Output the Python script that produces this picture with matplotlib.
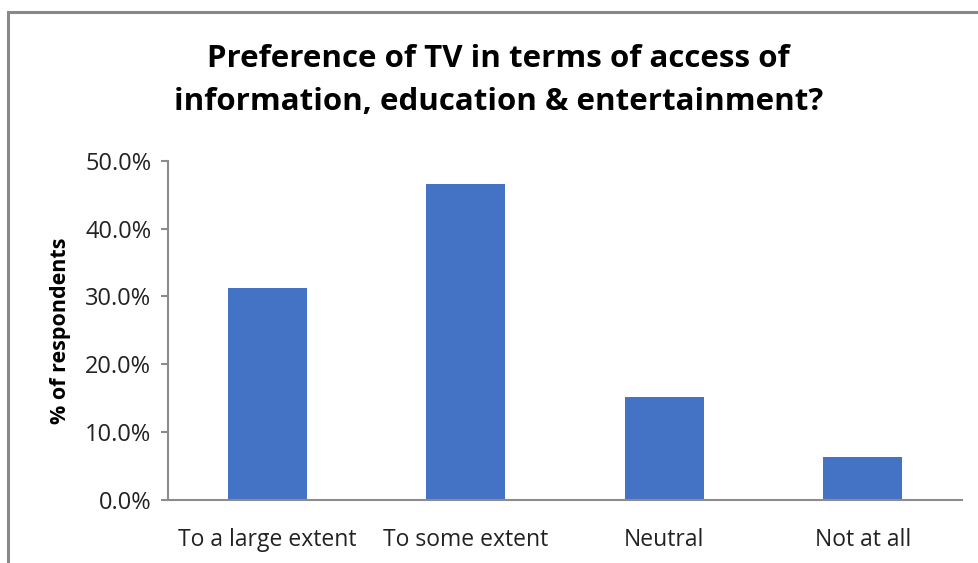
import matplotlib.pyplot as plt
from matplotlib.ticker import PercentFormatter
from matplotlib.patches import Rectangle

categories = ["To a large extent", "To some extent", "Neutral", "Not at all"]
share_pct = [31.3, 46.6, 15.2, 6.4]
y_ticks = [0, 10, 20, 30, 40, 50]

plt.rcParams['font.family'] = ['Open Sans', 'DejaVu Sans']

fig = plt.figure(figsize=(9.79, 5.63), dpi=100)
ax = fig.add_axes([0.1716, 0.1119, 0.8110, 0.6027])

x = range(len(categories))
ax.bar(x, share_pct, width=0.4, color='#4472C4')

ax.set_xlim(-0.5, len(categories) - 0.5)
ax.set_ylim(0, 50)
ax.set_yticks(y_ticks)
ax.yaxis.set_major_formatter(PercentFormatter(decimals=1))
ax.set_xticks(list(x))
ax.set_xticklabels(categories)

for side in ['top', 'right']:
    ax.spines[side].set_visible(False)
for side in ['left', 'bottom']:
    ax.spines[side].set_color('#8c8c8c')
    ax.spines[side].set_linewidth(1.5)
ax.tick_params(axis='y', length=5, width=1.5, color='#8c8c8c', labelsize=17, labelcolor='#222222', pad=7)
ax.tick_params(axis='x', length=0, labelsize=16.5, labelcolor='#222222', pad=20)

ax.set_ylabel("% of respondents", fontsize=15.5, fontweight='bold', labelpad=10)

fig.text(0.509, 0.857, "Preference of TV in terms of access of\ninformation, education & entertainment?",
         ha='center', va='center', fontsize=22.5, fontweight='bold', linespacing=1.6)

# outer frame (top and left edges only)
fig.patches.append(Rectangle((8 / 979, -0.1), 1.2, 1.1 - 12.5 / 563, transform=fig.transFigure,
                             fill=False, edgecolor='#888888', linewidth=2.2))

fig.savefig("out.png", dpi=100)
